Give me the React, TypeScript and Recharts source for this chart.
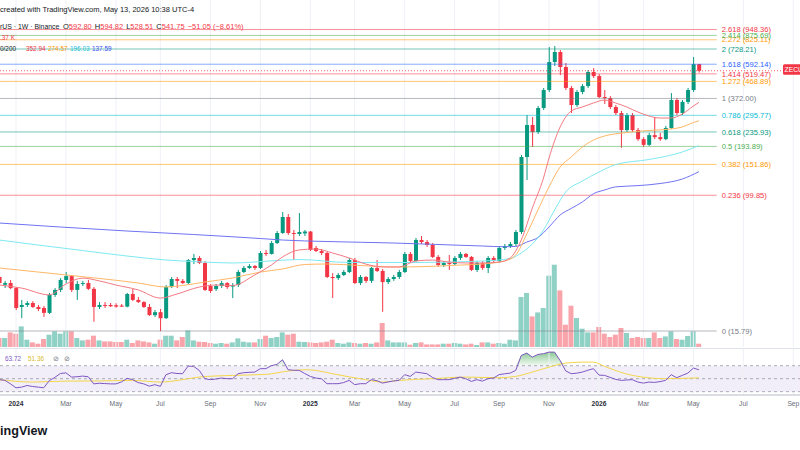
import React from 'react'
import { ComposedChart, Bar, Line, Area, XAxis, YAxis, ReferenceLine, ReferenceArea } from 'recharts'

const UP = '#089981'
const DOWN = '#f23645'
const FONT = '"Liberation Sans", Arial, sans-serif'

// weekly bars, week 1 = 11 Dec 2023 ... week 127 = 11 May 2026
const opens = [
  32.9, 29.6, 30.3, 28.3, 21.9, 22.5, 23.1, 21.9, 21.6, 20.2,
  25.8, 27.6, 31.6, 33.3, 27.6, 29.9, 30.3, 28.0, 21.9, 22.5,
  22.5, 22.4, 22.3, 22.0, 26.1, 24.1, 23.4, 21.9, 19.6, 20.4,
  18.8, 28.7, 32.0, 31.2, 30.3, 41.4, 42.6, 39.8, 29.1, 27.9,
  29.1, 30.3, 28.9, 29.5, 35.2, 37.2, 38.2, 37.2, 45.6, 45.0,
  52.2, 59.8, 74.3, 59.8, 59.0, 59.5, 61.0, 48.8, 46.8, 45.6,
  32.9, 32.4, 33.8, 35.2, 41.4, 30.3, 32.9, 31.2, 37.2, 35.7,
  30.7, 32.0, 32.9, 35.2, 45.0, 40.9, 54.4, 52.9, 50.8, 43.2,
  38.7, 39.8, 39.2, 42.6, 45.0, 43.2, 36.2, 39.8, 37.2, 42.6,
  40.9, 48.8, 50.1, 51.5, 60.6, 167.9, 259.3, 235.8, 326.6, 417.1,
  610.1, 699, 570, 429, 340, 406, 440, 533, 504, 379,
  374, 331, 305, 242, 297, 242, 214, 198, 226, 220,
  214, 249, 364, 305, 355, 417, 592.8,
]
const highs = [
  33.8, 31.2, 31.6, 28.7, 24.1, 23.7, 23.7, 22.5, 22.2, 26.5,
  28.3, 32.4, 35.2, 33.8, 31.2, 31.2, 31.6, 28.7, 23.4, 23.4,
  23.1, 23.0, 22.8, 26.5, 28.0, 25.1, 23.7, 22.8, 21.0, 21.3,
  29.5, 32.9, 32.9, 32.0, 42.0, 45.0, 43.7, 40.9, 29.9, 29.9,
  31.2, 30.7, 30.3, 36.2, 38.2, 39.2, 38.7, 46.8, 47.5, 53.6,
  61.4, 79.5, 77.4, 62.3, 78.4, 62.3, 61.4, 50.1, 48.1, 46.2,
  34.7, 34.7, 36.2, 42.6, 42.6, 33.8, 33.3, 37.7, 41.4, 36.7,
  32.9, 33.8, 36.2, 46.2, 46.2, 55.9, 57.4, 54.4, 52.2, 44.3,
  40.9, 44.3, 43.7, 46.2, 45.6, 43.7, 40.9, 40.9, 43.7, 43.7,
  50.1, 51.5, 52.9, 62.3, 172.5, 297, 289, 335.6, 428.6, 748,
  758, 718, 602, 440, 417, 452, 547, 562, 518, 417,
  384, 340, 314, 305, 305, 249, 220, 233, 289, 233,
  256, 400, 374, 364, 429, 653, 594.82,
]
const lows = [
  29.5, 28.3, 27.9, 21.0, 18.8, 21.9, 21.6, 20.7, 19.1, 19.9,
  25.1, 26.8, 30.3, 26.8, 24.1, 29.1, 27.6, 17.9, 21.3, 21.6,
  21.9, 21.7, 21.9, 21.8, 23.7, 23.1, 21.6, 19.4, 19.1, 15.79,
  18.6, 28.3, 28.3, 29.9, 29.9, 39.2, 39.2, 27.2, 26.5, 27.2,
  28.3, 28.0, 24.7, 28.7, 34.7, 36.7, 36.2, 36.7, 43.7, 44.6,
  51.5, 59.0, 58.2, 41.4, 57.4, 57.4, 46.8, 46.2, 44.3, 32.4,
  24.7, 31.6, 33.3, 34.7, 29.9, 29.5, 30.3, 30.3, 35.2, 20.5,
  29.9, 31.2, 32.0, 34.7, 39.8, 40.5, 51.5, 49.5, 42.6, 37.7,
  37.7, 36.2, 38.7, 41.4, 42.6, 35.7, 35.2, 36.2, 34.7, 39.8,
  39.8, 47.5, 48.8, 50.1, 59.0, 122.8, 192.3, 229.5, 317.9, 405.9,
  577.8, 511, 417, 305, 332, 394, 429, 491, 374, 345,
  322, 297, 190, 236, 236, 209, 192, 195, 214, 209,
  211, 246, 297, 297, 345, 406, 528.51,
]
const closes = [
  30.3, 30.3, 28.3, 21.6, 22.5, 23.1, 21.9, 21.3, 20.2, 25.8,
  27.6, 31.6, 33.3, 27.6, 29.9, 30.3, 28.0, 21.9, 22.5, 22.2,
  22.1, 22.0, 22.0, 26.1, 24.1, 23.4, 21.9, 19.6, 20.4, 18.8,
  28.7, 32.0, 31.2, 30.3, 41.4, 42.6, 39.8, 27.6, 27.2, 29.1,
  30.3, 28.7, 29.5, 35.2, 37.2, 38.2, 37.2, 45.6, 45.0, 52.2,
  59.8, 74.3, 59.8, 59.0, 60.6, 61.0, 47.5, 46.8, 45.6, 32.9,
  32.4, 33.8, 35.2, 41.4, 30.3, 32.9, 31.2, 37.2, 35.7, 30.7,
  32.0, 32.9, 35.2, 45.0, 40.9, 54.4, 52.9, 50.8, 43.2, 38.7,
  39.8, 39.2, 42.6, 45.0, 43.2, 36.2, 39.8, 37.2, 42.6, 40.9,
  48.8, 50.1, 51.5, 60.6, 167.9, 259.3, 235.8, 326.6, 417.1, 610.1,
  699, 570, 429, 340, 406, 440, 533, 504, 379, 374,
  331, 305, 242, 297, 242, 214, 198, 226, 220, 214,
  249, 364, 305, 355, 417, 592.8, 541.75,
]
// volume, thousands
const volumes = [
  360, 360, 584, 532, 824, 292, 184, 132, 320, 492,
  624, 532, 624, 624, 360, 264, 292, 452, 264, 224,
  224, 200, 200, 292, 160, 264, 224, 184, 132, 292,
  452, 452, 264, 400, 664, 264, 212, 200, 160, 132,
  160, 132, 184, 344, 212, 184, 184, 320, 452, 360,
  400, 584, 492, 532, 212, 200, 184, 160, 184, 212,
  292, 160, 132, 184, 160, 132, 160, 132, 184, 960,
  264, 184, 184, 184, 92, 160, 184, 104, 104, 104,
  132, 132, 160, 132, 104, 132, 80, 184, 184, 132,
  160, 132, 292, 264, 2000, 2160, 1224, 1384, 1560, 2852,
  3292, 2264, 892, 1652, 1160, 732, 584, 584, 800, 532,
  400, 492, 760, 560, 360, 400, 360, 360, 584, 360,
  424, 624, 320, 292, 440, 624, 132.37,
]
const rsiValues = [
  48.5, 47.5, 42, 36, 37, 39.5, 38, 37, 36, 47,
  52, 58, 59, 52.5, 53, 54, 53, 42, 43, 42.5,
  42, 42, 45, 50.5, 48.5, 44, 42, 38.5, 40.8, 38.2,
  56, 59.2, 58, 57.7, 69.4, 68.9, 62.8, 50, 48.5, 49.5,
  51, 50, 50, 57.7, 59.2, 59.8, 60.2, 65.4, 65.4, 70,
  72, 79.2, 63.8, 63, 62.8, 58, 53.5, 51, 50, 42.3,
  42.3, 42.3, 44, 47.4, 40.8, 42.3, 42.3, 48.5, 47, 43.2,
  45, 46.5, 47.4, 56.2, 53.5, 60.2, 59, 57.7, 52, 48.5,
  48.5, 48.5, 50.5, 52.5, 50, 45.8, 48.5, 46.3, 50, 51,
  56.2, 57.5, 58.6, 62.8, 85.8, 89.4, 83.2, 87.4, 88.5, 90.9,
  90.9, 78, 62, 57.7, 58.5, 60.2, 63, 65.4, 55.5, 55.1,
  52, 48.9, 47.4, 48, 48.5, 44.8, 43.2, 44.8, 44.3, 45.5,
  47.4, 56.2, 51.5, 55.1, 58.6, 66.3, 63.72,
]

const ma20Weeks = [1, 5, 10, 13, 16, 19, 22, 26, 30, 33, 37, 40, 43, 47, 50, 52, 55, 58, 61, 64, 67, 70, 73, 76, 79, 82, 85, 88, 91, 93, 95, 97, 99, 100, 102, 104, 106, 108, 110, 112, 114, 116, 118, 120, 122, 124, 126, 127]
const ma20Values = [29.5, 28.3, 25.8, 29.9, 32.4, 31.2, 29.5, 27.6, 24.7, 26.1, 28.7, 29.5, 29.3, 33.8, 38.7, 43.2, 47.5, 48.1, 45.6, 42.6, 39.2, 37.7, 37.7, 40.9, 41.4, 40.3, 39.8, 39.8, 40.3, 42.6, 54.4, 84.0, 126.2, 165.6, 252.4, 313.6, 331.1, 349.6, 364.1, 349.6, 331.1, 309.4, 293.0, 285.1, 285.1, 301.1, 335.6, 352.94]
const ma50Weeks = [1, 8, 14, 20, 26, 31, 34, 38, 43, 48, 52, 56, 60, 66, 72, 78, 84, 88, 92, 94, 96, 98, 100, 102, 104, 106, 108, 110, 114, 118, 122, 124, 126, 127]
const ma50Values = [37.17, 35.19, 33.56, 32.0, 30.32, 28.72, 29.31, 30.73, 32.44, 35.19, 36.67, 38.98, 39.24, 38.45, 37.67, 37.93, 38.69, 39.24, 40.87, 44.34, 59.1, 81.7, 112, 146.6, 167.9, 192.3, 211.5, 223.3, 234.2, 240.7, 245.6, 252.4, 268.2, 274.57]
const ma100Weeks = [1, 8, 16, 24, 31, 36, 43, 51, 55, 64, 76, 88, 93, 95, 97, 99, 101, 103, 106, 109, 112, 118, 124, 127]
const ma100Values = [54.36, 50.79, 47.13, 43.74, 41.43, 40.59, 39.78, 41.15, 41.71, 40.05, 40.05, 40.87, 42.28, 45.57, 51.49, 62.27, 81.72, 104.3, 121.1, 136.9, 151.6, 162.3, 179.7, 196.03]
const ma200Weeks = [1, 12, 24, 36, 48, 52, 60, 72, 80, 88, 92, 94, 96, 98, 100, 102, 104, 106, 108, 110, 112, 116, 120, 124, 127]
const ma200Values = [68.48, 64.86, 61.43, 58.58, 55.48, 54.36, 53.26, 52.2, 51.14, 50.11, 49.63, 49.8, 52.9, 56.2, 64.9, 76.35, 83.5, 91.1, 102.0, 107.2, 111.9, 113.8, 117.1, 124.5, 137.59]
const rsiMaWeeks = [1, 7, 13, 19, 25, 30, 34, 37, 43, 49, 53, 56, 58, 61, 67, 70, 73, 79, 85, 91, 94, 97, 100, 103, 106, 108, 110, 115, 121, 127]
const rsiMaValues = [48.5, 44.8, 46.3, 46.5, 47.4, 44.8, 48.5, 52.5, 55.1, 56.6, 61.7, 63.8, 62.8, 57.7, 48.5, 44.8, 47.4, 50, 52.5, 51.5, 53.5, 60.2, 67.8, 74, 75.5, 75.5, 69, 55.1, 50, 51.36]

const tickWeeks = [4, 13, 22, 30, 39, 48, 57, 65, 74, 83, 91, 100, 109, 117, 126, 135, 144]
const tickLabels = ['2024', 'Mar', 'May', 'Jul', 'Sep', 'Nov', '2025', 'Mar', 'May', 'Jul', 'Sep', 'Nov', '2026', 'Mar', 'May', 'Jul', 'Sep']

const fibRatios = ['0', '0.236', '0.382', '0.5', '0.618', '0.786', '1', '1.272', '1.414', '1.618', '2', '2.272', '2.414', '2.618']
const fibPrices = [15.79, 99.85, 151.86, 193.89, 235.93, 295.77, 372.0, 468.89, 519.47, 592.14, 728.21, 825.11, 875.69, 948.36]
const fibColors = ['#787b86', '#f23645', '#ff9800', '#4caf50', '#089981', '#00bcd4', '#787b86', '#ff9800', '#f23645', '#2962ff', '#089981', '#ff9800', '#4caf50', '#f23645']

const X_MIN = 1.12
const X_MAX = 145.2
const FIB_END = 130.2
const PRICE_DOMAIN = [12.71, 1416.7]
const VOL_DOMAIN = [0, 13880]
const RSI_DOMAIN = [24.9, 95.7]

const pick = (weeks: number[], values: number[], i: number) => {
  const k = weeks.indexOf(i)
  return k < 0 ? null : values[k]
}

const rows = opens.map((o, k) => {
  const i = k + 1
  return {
    i,
    o,
    h: highs[k],
    l: lows[k],
    c: closes[k],
    vol: volumes[k],
    rsi: rsiValues[k],
    ma20: pick(ma20Weeks, ma20Values, i),
    ma50: pick(ma50Weeks, ma50Values, i),
    ma100: pick(ma100Weeks, ma100Values, i),
    ma200: pick(ma200Weeks, ma200Values, i),
    rsiMa: pick(rsiMaWeeks, rsiMaValues, i),
  }
})

const last = rows.length - 1
const fmt = (v: number) => v.toFixed(2)
const minus = (s: string) => s.replace('-', '\u2212')

const Candle = (props: any) => {
  const { x, y, width, height, payload } = props
  if (!payload || height == null) return null
  const { o, h, l, c } = payload
  const color = c >= o ? UP : DOWN
  const span = Math.log(h) - Math.log(l)
  const py = (v: number) => (span > 0 ? y + (height * (Math.log(h) - Math.log(v))) / span : y)
  const top = py(Math.max(o, c))
  const bottom = py(Math.min(o, c))
  const mid = x + width / 2
  return (
    <g>
      <line x1={mid} x2={mid} y1={y} y2={y + height} stroke={color} strokeWidth={1} />
      <rect x={x} y={top} width={width} height={Math.max(1, bottom - top)} fill={color} />
    </g>
  )
}

const VolumeBar = (props: any) => {
  const { x, y, width, height, payload } = props
  if (!payload || !(height > 0)) return null
  const fill = payload.c >= payload.o ? 'rgba(8,153,129,0.45)' : 'rgba(242,54,69,0.45)'
  return <rect x={x} y={y} width={width} height={height} fill={fill} />
}

const PriceTag = (props: any) => {
  const vb = props.viewBox
  if (!vb) return null
  const right = vb.x + vb.width
  return (
    <g>
      <rect x={right - 17} y={vb.y - 6.5} width={60} height={10.5} rx={1.5} fill={DOWN} />
      <text x={right - 15.5} y={vb.y + 1.6} fontSize={6.8} fill="#fff" fontFamily={FONT}>
        ZECUSDT
      </text>
    </g>
  )
}

const TimeTick = (props: any) => {
  const { x, y, payload } = props
  const label = tickLabels[tickWeeks.indexOf(payload.value)] ?? ''
  const isYear = /^\d{4}$/.test(label)
  return (
    <text x={x} y={y} dy={2.5} textAnchor="middle" fontSize={6.7} fontFamily={FONT}
      fontWeight={isYear ? 700 : 400} fill={isYear ? '#2a2e39' : '#6a6d78'}>
      {label}
    </text>
  )
}

const margin = { top: 0, right: 0, bottom: 0, left: 0 }
const layer = (top: number): React.CSSProperties => ({ position: 'absolute', left: 0, top })

export default function App() {
  const lastOpen = opens[last]
  const lastClose = closes[last]
  const change = lastClose - lastOpen
  const pct = (change / lastOpen) * 100
  return (
    <div style={{ position: 'absolute', left: 0, top: 0, width: 800, height: 450, background: '#fff', overflow: 'hidden', fontFamily: FONT }}>
      {/* volume, under the price pane */}
      <div style={layer(0)}>
        <ComposedChart width={800} height={347} data={rows} margin={margin}>
          <XAxis dataKey="i" type="number" domain={[X_MIN, X_MAX]} allowDataOverflow hide />
          <YAxis type="number" domain={VOL_DOMAIN} allowDataOverflow hide />
          {tickWeeks.map((w) => (
            <ReferenceLine key={w} x={w} stroke="#eef1f6" strokeWidth={1} />
          ))}
          <Bar dataKey="vol" barSize={5} shape={VolumeBar} isAnimationActive={false} />
        </ComposedChart>
      </div>

      {/* price pane */}
      <div style={layer(0)}>
        <ComposedChart width={800} height={347} data={rows} margin={margin}>
          <XAxis dataKey="i" type="number" domain={[X_MIN, X_MAX]} allowDataOverflow hide />
          <YAxis type="number" scale="log" domain={PRICE_DOMAIN} allowDataOverflow hide />
          {fibPrices.map((p, k) => (
            <ReferenceLine
              key={p}
              segment={[{ x: X_MIN, y: p }, { x: FIB_END, y: p }]}
              stroke={fibColors[k]}
              strokeOpacity={0.55}
              strokeWidth={1}
              label={{ value: `${fibRatios[k]} (${fmt(p)})`, position: 'right', offset: 5, fill: fibColors[k], fontSize: 7.6, fontFamily: FONT }}
            />
          ))}
          <ReferenceLine y={lastClose} stroke={DOWN} strokeOpacity={0.8} strokeDasharray="1 2" label={PriceTag} />
          <Line dataKey="ma200" type="monotone" connectNulls dot={false} stroke="#6f73f2" strokeWidth={1} isAnimationActive={false} />
          <Line dataKey="ma100" type="monotone" connectNulls dot={false} stroke="#7fe9f2" strokeWidth={1} isAnimationActive={false} />
          <Line dataKey="ma50" type="monotone" connectNulls dot={false} stroke="#ffb766" strokeWidth={1} isAnimationActive={false} />
          <Line dataKey="ma20" type="monotone" connectNulls dot={false} stroke="#f47a82" strokeWidth={1} isAnimationActive={false} />
          <Bar dataKey={(d: any) => [d.l, d.h]} barSize={4} shape={Candle} isAnimationActive={false} />
        </ComposedChart>
      </div>

      <div style={{ position: 'absolute', left: 0, top: 348, width: 800, height: 1, background: '#e0e3eb' }} />

      {/* RSI pane with time axis */}
      <div style={layer(349)}>
        <ComposedChart width={800} height={60} data={rows} margin={margin}>
          <defs>
            <linearGradient id="obFill" x1="0" y1="0" x2="0" y2="1">
              <stop offset="0%" stopColor="#2e9c45" stopOpacity={0.95} />
              <stop offset="100%" stopColor="#4caf50" stopOpacity={0.12} />
            </linearGradient>
          </defs>
          <XAxis
            dataKey="i"
            type="number"
            domain={[X_MIN, X_MAX]}
            allowDataOverflow
            ticks={tickWeeks}
            interval={0}
            tickLine={false}
            axisLine={{ stroke: '#cfd2d9', strokeWidth: 1.5 }}
            height={14}
            tick={TimeTick}
          />
          <YAxis type="number" domain={RSI_DOMAIN} allowDataOverflow hide />
          <ReferenceArea y1={30} y2={70} fill="#7e57c2" fillOpacity={0.1} stroke="none" />
          {tickWeeks.map((w) => (
            <ReferenceLine key={w} x={w} stroke="#eef1f6" strokeWidth={1} />
          ))}
          {[70, 50, 30].map((v) => (
            <ReferenceLine key={v} y={v} stroke="#787b86" strokeOpacity={0.6} strokeDasharray="3 3" />
          ))}
          <Area dataKey={(d: any) => [70, Math.max(70, d.rsi)]} type="linear" stroke="none" fill="url(#obFill)" isAnimationActive={false} />
          <Line dataKey="rsiMa" type="monotone" connectNulls dot={false} stroke="#f3d64a" strokeWidth={1} isAnimationActive={false} />
          <Line dataKey="rsi" type="linear" dot={false} stroke="#7e57c2" strokeWidth={1} isAnimationActive={false} />
        </ComposedChart>
      </div>

      {/* legends and watermark */}
      <svg width={800} height={450} style={{ position: 'absolute', left: 0, top: 0, pointerEvents: 'none' }} fontFamily={FONT}>
        <text x={0} y={12} fontSize={7.5} fill="#131722">
          created with TradingView.com, May 13, 2026 10:38 UTC-4
        </text>
        <text y={29.3} fontSize={7.5} fill="#131722">
          <tspan x={0} fontSize={6.9}>rUS · 1W · Binance</tspan>
          <tspan x={63}>O</tspan>
          <tspan fill={DOWN}>{fmt(lastOpen)}</tspan>
          <tspan dx={3}>H</tspan>
          <tspan fill={DOWN}>{fmt(highs[last])}</tspan>
          <tspan dx={3}>L</tspan>
          <tspan fill={DOWN}>{fmt(lows[last])}</tspan>
          <tspan dx={3}>C</tspan>
          <tspan fill={DOWN}>{fmt(lastClose)}</tspan>
          <tspan dx={3} fill={DOWN}>
            {minus(fmt(change))} ({minus(fmt(pct))}%)
          </tspan>
        </text>
        <text x={0} y={39.5} fontSize={6.4} fill={DOWN}>
          .{fmt(volumes[last]).split('.')[1]} K
        </text>
        <text y={50.5} fontSize={6.4}>
          <tspan x={0} fill="#131722">0/200</tspan>
          <tspan x={26} fill="#f23645">{fmt(ma20Values[ma20Values.length - 1])}</tspan>
          <tspan x={48} fill="#ff9800">{fmt(ma50Values[ma50Values.length - 1])}</tspan>
          <tspan x={70} fill="#22c5d8">{fmt(ma100Values[ma100Values.length - 1])}</tspan>
          <tspan x={92} fill="#3b4ff0">{fmt(ma200Values[ma200Values.length - 1])}</tspan>
        </text>
        <text y={360.5} fontSize={6.4}>
          <tspan x={5} fill="#7e57c2">{fmt(rsiValues[last])}</tspan>
          <tspan x={28} fill="#d9b92c">{fmt(rsiMaValues[rsiMaValues.length - 1])}</tspan>
        </text>
        <text y={360.8} fontSize={7} fill="#787b86" fontFamily="DejaVu Sans">
          <tspan x={53}>⊘</tspan>
          <tspan x={64}>⊘</tspan>
        </text>
        <text x={0} y={434.5} fontSize={12.6} fontWeight={700} fill="#131722">
          ingView
        </text>
      </svg>
    </div>
  )
}
